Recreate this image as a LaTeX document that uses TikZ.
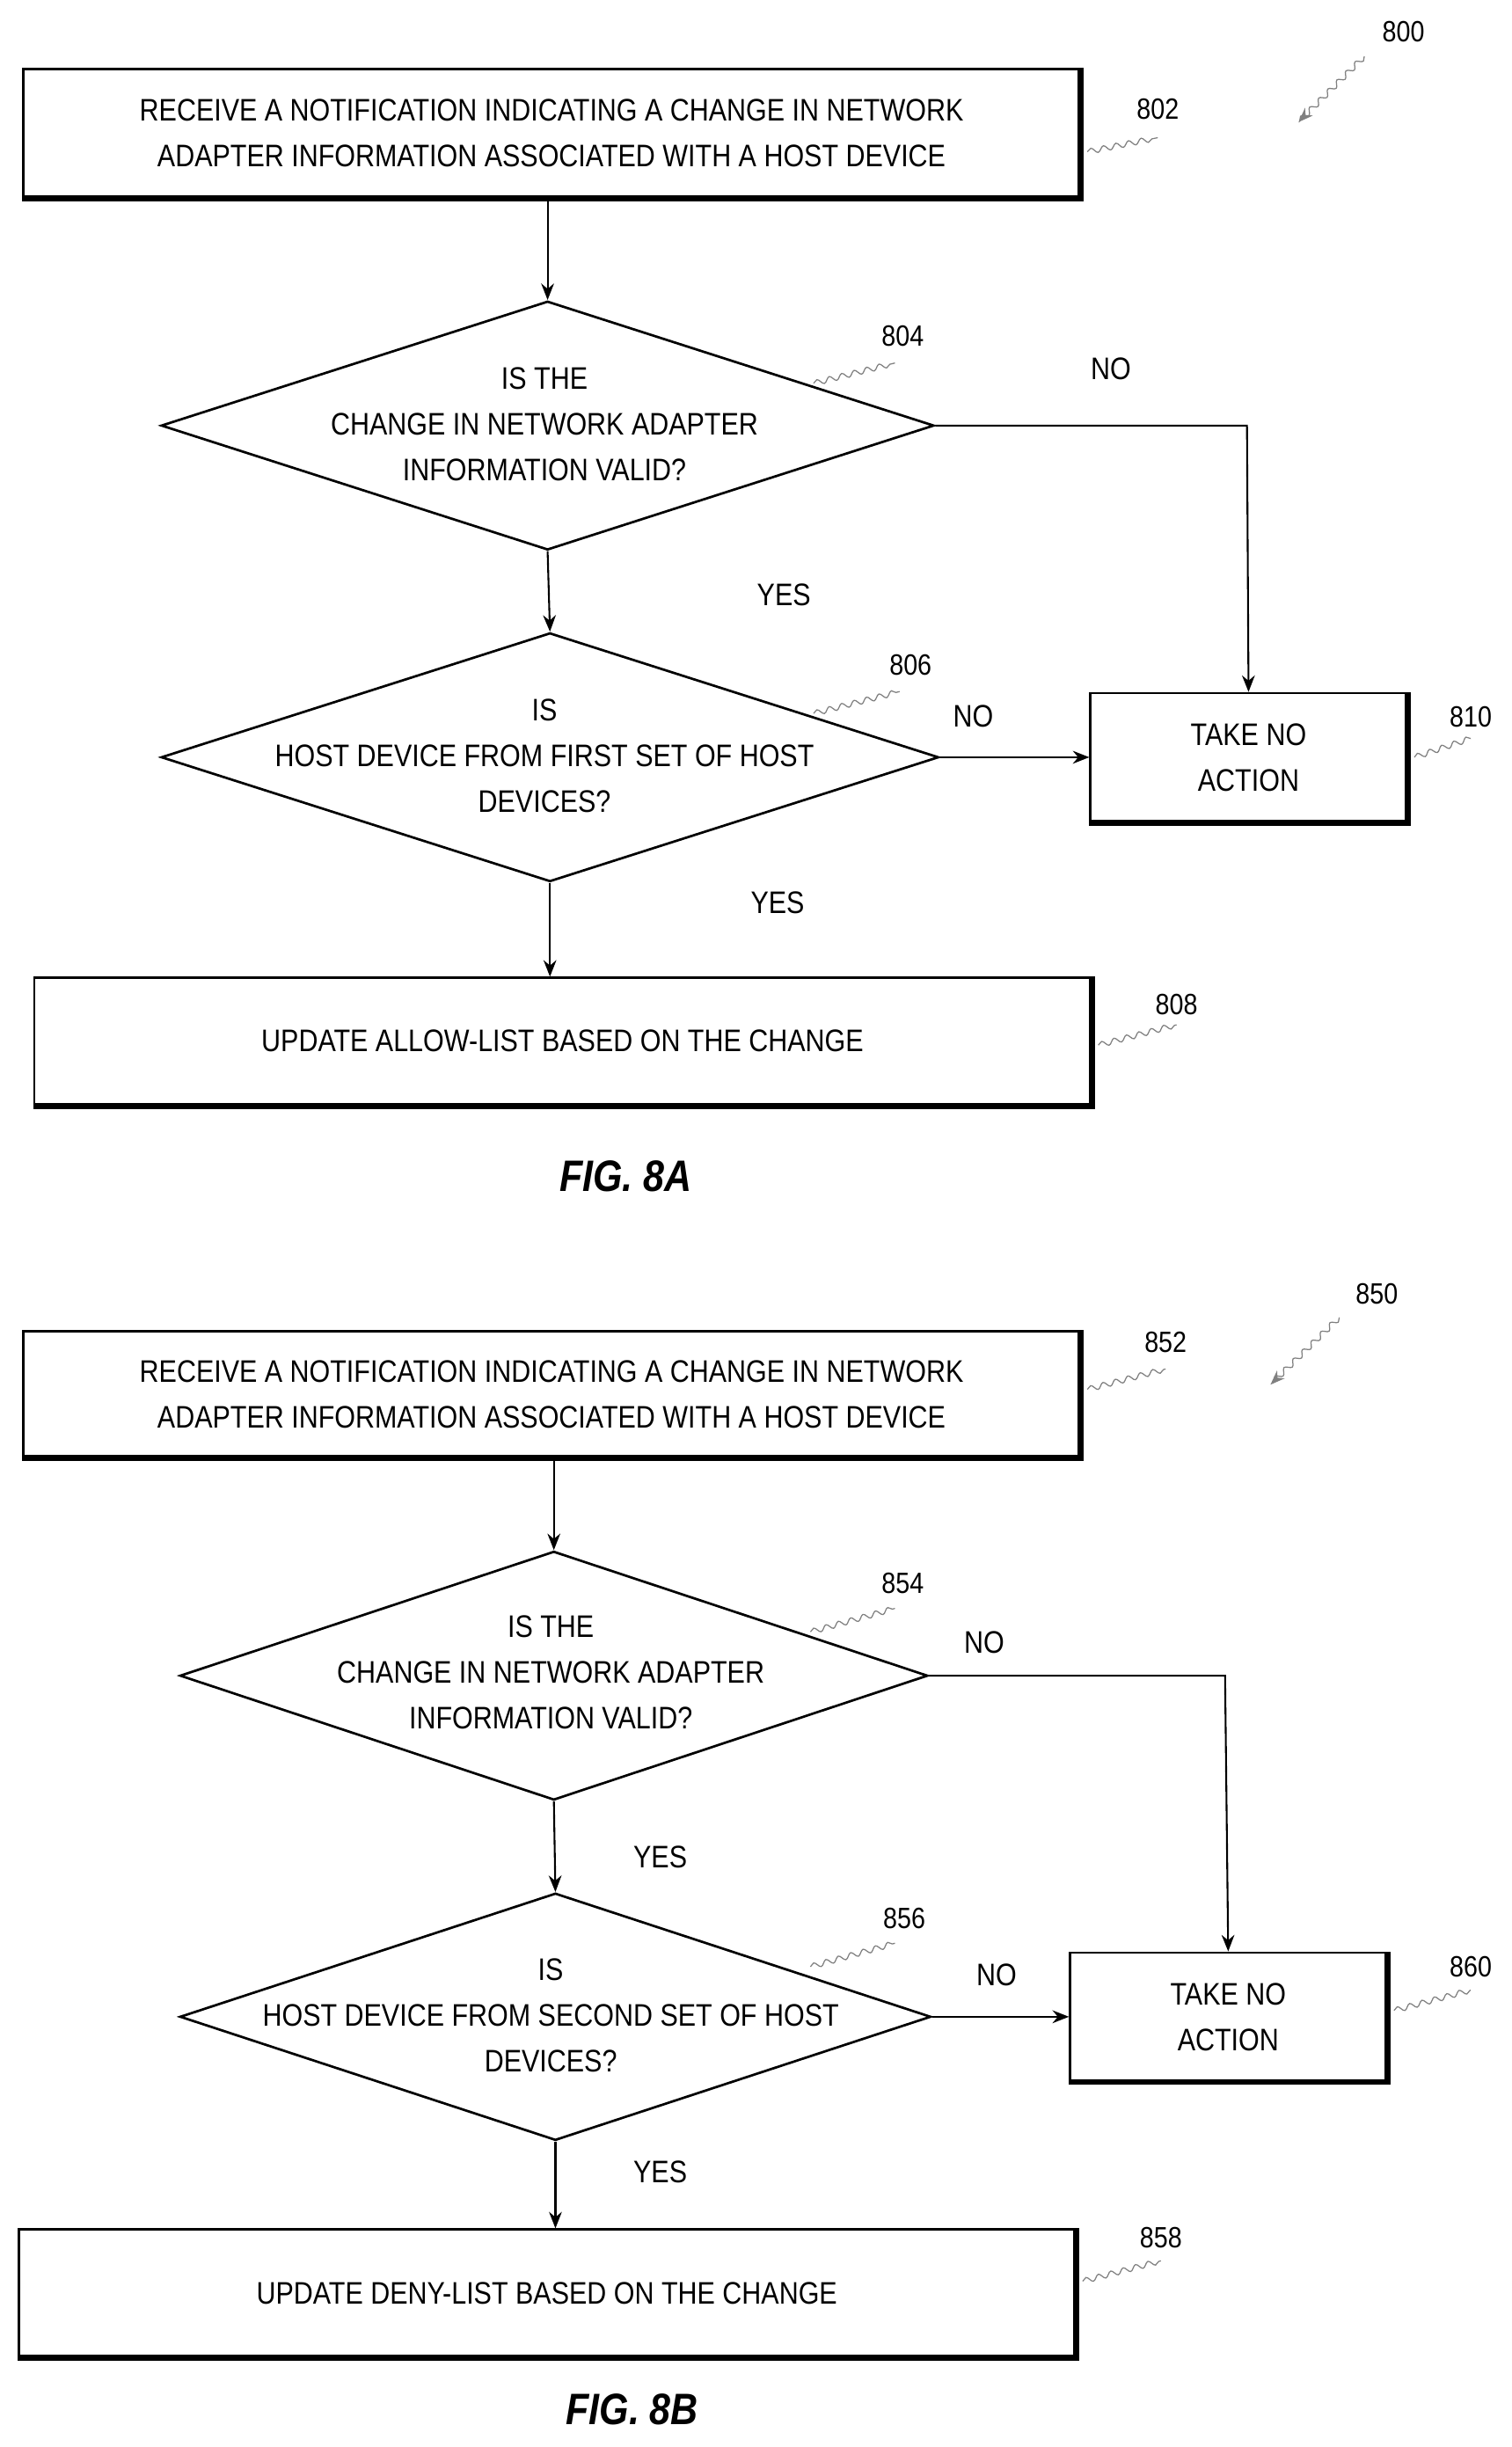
\documentclass[tikz,border=0pt]{standalone}
\usepackage{fontspec}
\setmainfont{Liberation Sans}[FakeStretch=0.86]
\usetikzlibrary{shapes.geometric,arrows.meta,decorations.pathmorphing}

\tikzset{
  box/.style={draw, line width=1.3pt, inner sep=0pt, align=center},
  dec/.style={diamond, draw, line width=1.3pt, inner sep=0pt},
  txt/.style={font=\fontsize{17}{25}\selectfont, align=center},
  tag/.style={font=\fontsize{16}{18}\selectfont},
  flow/.style={line width=1pt, -{Stealth[length=9pt,width=7pt]}},
  wig/.style={line width=0.6pt, gray, decorate, decoration={snake, amplitude=1.5pt, segment length=7pt}},
  fig/.style={font=\fontsize{24}{28}\selectfont\itshape}
}
% heavy lower and right edges of a box
\newcommand{\heavy}[1]{\draw[line width=3.2pt] (#1.south west) -- (#1.south east) -- (#1.north east);}

\begin{document}
\begin{tikzpicture}[x=0.03cm, y=-0.03cm]
\useasboundingbox (0,0) rectangle (966,1564);

% ---------- FIG. 8A ----------
\node[tag] (n800) at (897,20) {800};
\draw[wig, -{Stealth[length=8pt]}] (872,36) -- (830,78);

\node[box, minimum width=675*0.03cm, minimum height=82*0.03cm] (b802) at (352.5,85) {};
\node[txt] at (b802) {RECEIVE A NOTIFICATION INDICATING A CHANGE IN NETWORK\\ADAPTER INFORMATION ASSOCIATED WITH A HOST DEVICE};
\heavy{b802}
\node[tag] (n802) at (740,70) {802};
\draw[wig] (695,97) -- (740,88);

\node[dec, minimum width=494*0.03cm, minimum height=159*0.03cm] (d804) at (350,272) {};
\node[txt] at (348,271) {IS THE\\CHANGE IN NETWORK ADAPTER\\INFORMATION VALID?};
\node[tag] (n804) at (577,215) {804};
\draw[wig] (520,245) -- (572,232);

\node[dec, minimum width=497*0.03cm, minimum height=159*0.03cm] (d806) at (351.5,484) {};
\node[txt] at (348,483) {IS\\HOST DEVICE FROM FIRST SET OF HOST\\DEVICES?};
\node[tag] (n806) at (582,425) {806};
\draw[wig] (520,456) -- (575,442);

\node[box, minimum width=202*0.03cm, minimum height=82*0.03cm] (b810) at (798,484) {};
\node[txt] at (b810) {TAKE NO\\ACTION};
\heavy{b810}
\node[tag] (n810) at (940,458) {810};
\draw[wig] (904,484) -- (940,472);

\node[box, minimum width=675*0.03cm, minimum height=81*0.03cm] (b808) at (359.5,665.5) {};
\node[txt] at (b808) {UPDATE ALLOW-LIST BASED ON THE CHANGE};
\heavy{b808}
\node[tag] (n808) at (752,642) {808};
\draw[wig] (702,668) -- (752,655);

\coordinate (k804) at (797,272);
\draw[flow] (b802.south -| d804.north) -- (d804.north);
\draw[flow] (d804.south) -- (d806.north);
\draw[flow] (d806.south) -- (d806.south |- b808.north);
\draw[flow] (d804.east) -- (k804) -- (b810.north);
\draw[flow] (d806.east) -- (b810.west);
\node[txt] at (710,236) {NO};
\node[txt] at (501,380) {YES};
\node[txt] at (622,458) {NO};
\node[txt] at (497,577) {YES};
\node[fig] (f8a) at (400,752) {\textbf{FIG. 8A}};

% ---------- FIG. 8B ----------
\node[tag] (n850) at (880,827) {850};
\draw[wig, -{Stealth[length=8pt]}] (856,842) -- (812,885);

\node[box, minimum width=675*0.03cm, minimum height=80*0.03cm] (b852) at (352.5,891) {};
\node[txt] at (b852) {RECEIVE A NOTIFICATION INDICATING A CHANGE IN NETWORK\\ADAPTER INFORMATION ASSOCIATED WITH A HOST DEVICE};
\heavy{b852}
\node[tag] (n852) at (745,858) {852};
\draw[wig] (695,888) -- (745,875);

\node[dec, minimum width=478*0.03cm, minimum height=159*0.03cm] (d854) at (354,1071) {};
\node[txt] at (352,1069) {IS THE\\CHANGE IN NETWORK ADAPTER\\INFORMATION VALID?};
\node[tag] (n854) at (577,1012) {854};
\draw[wig] (518,1043) -- (572,1028);

\node[dec, minimum width=480*0.03cm, minimum height=158*0.03cm] (d856) at (355,1289) {};
\node[txt] at (352,1288) {IS\\HOST DEVICE FROM SECOND SET OF HOST\\DEVICES?};
\node[tag] (n856) at (578,1226) {856};
\draw[wig] (518,1257) -- (572,1242);

\node[box, minimum width=202*0.03cm, minimum height=82*0.03cm] (b860) at (785,1289) {};
\node[txt] at (b860) {TAKE NO\\ACTION};
\heavy{b860}
\node[tag] (n860) at (940,1257) {860};
\draw[wig] (891,1285) -- (940,1272);

\node[box, minimum width=675*0.03cm, minimum height=81*0.03cm] (b858) at (349.5,1465.5) {};
\node[txt] at (b858) {UPDATE DENY-LIST BASED ON THE CHANGE};
\heavy{b858}
\node[tag] (n858) at (742,1430) {858};
\draw[wig] (692,1458) -- (742,1445);

\coordinate (k854) at (783,1071);
\draw[flow] (b852.south -| d854.north) -- (d854.north);
\draw[flow] (d854.south) -- (d856.north);
\draw[flow] (d856.south) -- (d856.south |- b858.north);
\draw[flow] (d854.east) -- (k854) -- (b860.north);
\draw[flow] (d856.east) -- (b860.west);
\node[txt] at (629,1050) {NO};
\node[txt] at (422,1187) {YES};
\node[txt] at (637,1262) {NO};
\node[txt] at (422,1388) {YES};
\node[fig] (f8b) at (404,1540) {\textbf{FIG. 8B}};
\end{tikzpicture}
\end{document}
